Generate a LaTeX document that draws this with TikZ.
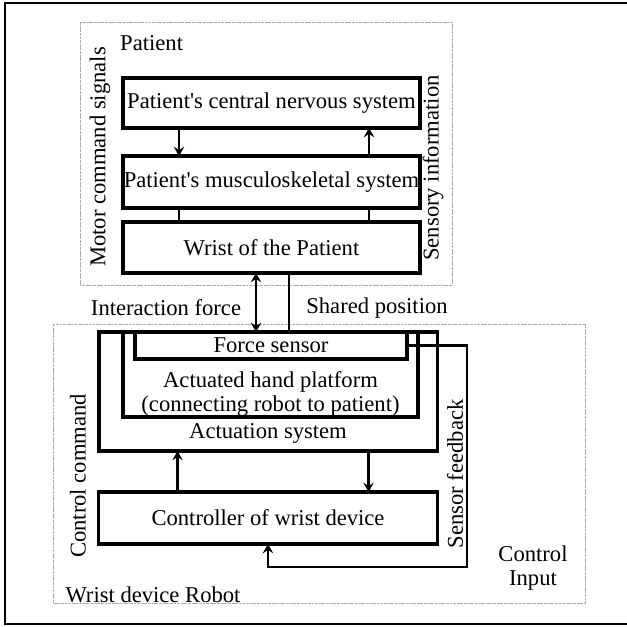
\documentclass[tikz,border=0pt]{standalone}
\usepackage{fontspec}
\setmainfont{Liberation Serif}
\usetikzlibrary{positioning,arrows.meta}
\tikzset{block node/.style={draw,line width=2.6pt,inner sep=0pt,outer sep=0pt,align=center,font=\fontsize{19.3}{21}\selectfont},
label node/.style={inner sep=0pt,align=center,font=\fontsize{19.3}{21}\selectfont},
group box/.style={draw=gray!65,line width=0.7pt,dash pattern=on 2.5pt off 0.6pt},
flow line/.style={line width=2.2pt},
>={Stealth[length=8pt,width=9pt,inset=3pt]},
}

\begin{document}
\begin{tikzpicture}[x=0.03cm,y=-0.03cm]
		\useasboundingbox (0,0) rectangle (627,627);
		\draw[line width=2.4pt] (627,3) -| (5,624) -- (627,624);
		
		% patient side
		\draw[group box] (80,22) rectangle (452,285);
		\node[block node,minimum width=8.91cm,minimum height=1.5cm] (cns) at (271.5,103) {Patient\textquotesingle s central nervous system};
		\node[block node,minimum width=8.91cm,minimum height=1.56cm] (ms) [below =0.84cm of cns] {Patient\textquotesingle s musculoskeletal system};
		\node[block node,minimum width=8.91cm,minimum height=1.53cm] (wrist) [below =0.42cm of ms] {Wrist of the Patient};
		\node[label node,anchor=west] (patientlbl) at (120,43) {Patient};
		\node[label node,rotate=90] (motorlbl) at (100,157) {Motor command signals};
		\node[label node,rotate=90] (sensorylbl) at (433,168) {Sensory information};
		
		% robot side
		\draw[group box] (53,324) rectangle (585,603);
		\node[block node,anchor=north west,minimum width=10.14cm,minimum height=3.57cm] (act) at (99,332) {};
		\node[block node,anchor=north west,minimum width=8.85cm,minimum height=2.55cm] (plat) at (123,332) {};
		\node[block node,anchor=north west,minimum width=8.16cm,minimum height=0.81cm] (fs) at (135,332) {Force sensor};
		\node[block node,minimum width=10.17cm,minimum height=1.56cm] (ctrl) [below =1.23cm of act] {Controller of wrist device};
		\node[label node] (platlbl) at (270.5,394) {Actuated hand platform\\(connecting robot to patient)};
		\node[label node] (actlbl) at (268,433) {Actuation system};
		\node[label node] (interlbl) at (166,308) {Interaction force};
		\node[label node] (sharedlbl) at (377,308) {Shared position};
		\node[label node,rotate=90] (cmdlbl) at (78,476) {Control command};
		\node[label node,rotate=90] (fblbl) at (455,474) {Sensor feedback};
		\node[label node] (robotlbl) at (153,595) {Wrist device Robot};
		\node[label node] (inputlbl) at (533,568) {Control\\Input};
		
		\coordinate (cnsL) at ([xshift=-2.775cm]cns.south);
		\coordinate (cnsR) at ([xshift=2.925cm]cns.south);
		\coordinate (msL) at ([xshift=-2.775cm]ms.south);
		\coordinate (msR) at ([xshift=2.925cm]ms.south);
		\coordinate (ifA) at ([xshift=-0.465cm]wrist.south);
		\coordinate (spA) at ([xshift=0.525cm]wrist.south);
		\coordinate (ccA) at ([xshift=-2.715cm]ctrl.north);
		\coordinate (daA) at ([xshift=3.015cm]ctrl.north);
		\coordinate (fbturn) at (467,567);
		
		\draw[flow line,->] (cnsL) -- (cnsL |- ms.north);
		\draw[flow line,->] (cnsR |- ms.north) -- (cnsR);
		\draw[flow line] (msL) -- (msL |- wrist.north);
		\draw[flow line] (msR) -- (msR |- wrist.north);
		\draw[flow line,<->] (ifA) -- (ifA |- act.north);
		\draw[flow line] (spA) -- (spA |- act.north);
		\draw[flow line,->] (ccA) -- (ccA |- act.south);
		\draw[flow line,->] (daA |- act.south) -- (daA);
		\draw[flow line,->] (fs.east) -| (fbturn) -| (ctrl.south);
		
	\end{tikzpicture}
\end{document}
